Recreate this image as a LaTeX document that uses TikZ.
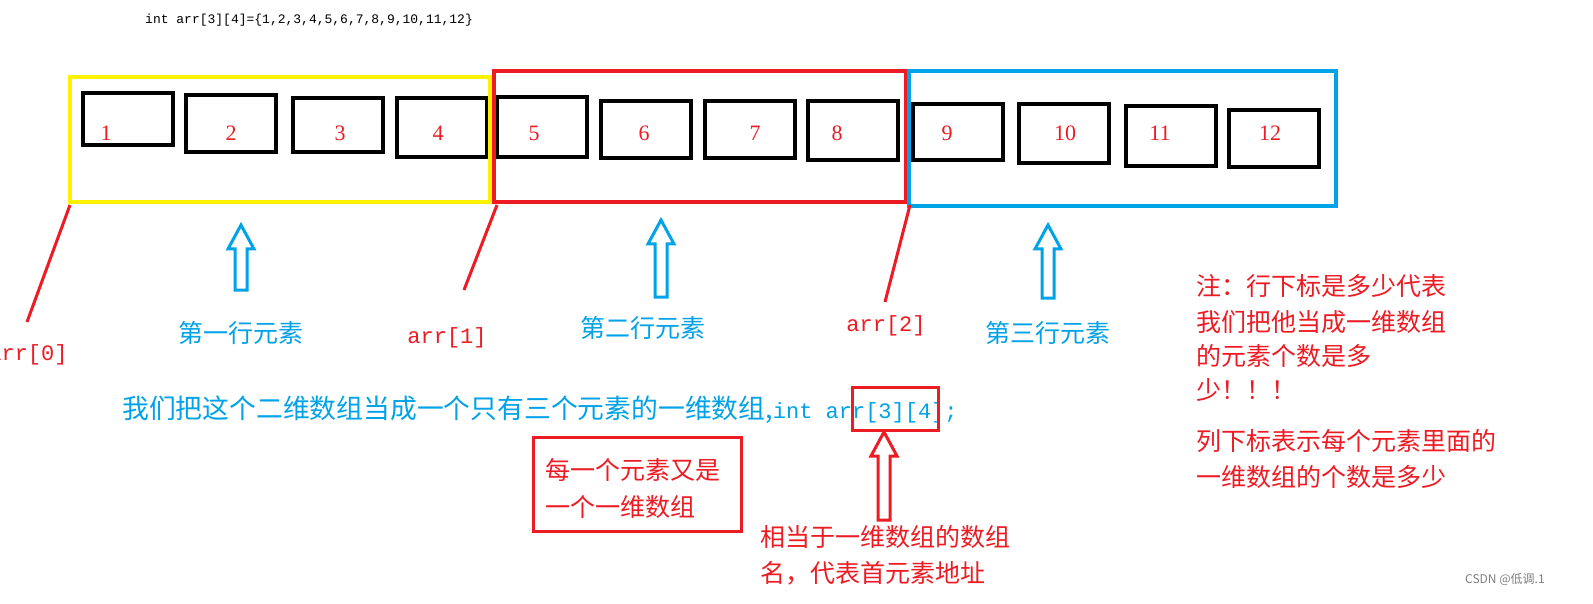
\documentclass[tikz,border=0pt]{standalone}
\usepackage{fontspec}
\setmainfont{Liberation Serif}
\setmonofont{Liberation Mono}
\newfontfamily\cjk{Noto Sans CJK SC}
\definecolor{myred}{RGB}{237,28,36}
\definecolor{myblue}{RGB}{0,162,232}
\definecolor{myyel}{RGB}{255,242,0}
\tikzset{
  cell/.style={draw=black,line width=4pt},
  num/.style={text=myred,font=\fontsize{22}{24}\selectfont,inner sep=0pt},
  lab/.style={text=myred,font=\ttfamily\fontsize{22}{24}\selectfont,inner sep=0pt},
  blab/.style={text=myblue,font=\cjk\fontsize{25}{28}\selectfont,inner sep=0pt},
  note/.style={text=myred,font=\cjk\fontsize{25}{28}\selectfont,inner sep=0pt,anchor=west},
  hol/.style={line width=3pt},
}
\newcommand{\harrow}[4]{\draw[hol,#4] (#1-6,#3) -- (#1-6,#2+24) -- (#1-13,#2+24) -- (#1,#2) -- (#1+13,#2+24) -- (#1+6,#2+24) -- (#1+6,#3) -- cycle;}
\begin{document}
\begin{tikzpicture}[x=1pt,y=-1pt]
\useasboundingbox[fill=white] (0,0) rectangle (1593,604);
\node[anchor=west,inner sep=0pt,font=\ttfamily\fontsize{13}{15}\selectfont] (code) at (145,20) {int arr[3][4]=\{1,2,3,4,5,6,7,8,9,10,11,12\}};
\draw[cell] (83,93) rectangle (173,145);
\draw[cell] (186,95) rectangle (276,152);
\draw[cell] (293,98) rectangle (383,152);
\draw[cell] (397,98) rectangle (487,157);
\draw[cell] (497,97) rectangle (587,157);
\draw[cell] (601,101) rectangle (691,158);
\draw[cell] (705,101) rectangle (795,158);
\draw[cell] (808,101) rectangle (898,160);
\draw[cell] (913,104) rectangle (1003,160);
\draw[cell] (1019,104) rectangle (1109,163);
\draw[cell] (1126,106) rectangle (1216,166);
\draw[cell] (1229,110) rectangle (1319,167);
\foreach \n/\x in {1/106,2/231,3/340,4/438,5/534,6/644,7/755,8/837,9/947,10/1065,11/1160,12/1270}
  \node[num] (n\n) at (\x,133) {\n};
\draw[myyel,line width=4pt] (70,77) rectangle (490,202);
\draw[myred,line width=4pt] (494,71) rectangle (906,202);
\draw[myblue,line width=4pt] (909,71) rectangle (1336,206);
\coordinate (c0) at (70,205); \coordinate (c1) at (497,205); \coordinate (c2) at (910,205);
\node[lab] (a0) at (28,355) {arr[0]};
\node[lab] (a1) at (447,338) {arr[1]};
\node[lab] (a2) at (886,326) {arr[2]};
\draw[myred,line width=3pt] (c0) -- (27,322);
\draw[myred,line width=3pt] (c1) -- (464,290);
\draw[myred,line width=3pt] (c2) -- (885,302);
\harrow{241}{225}{290}{myblue}
\harrow{661}{220}{297}{myblue}
\harrow{1048}{225}{298}{myblue}
\node[blab,anchor=west] (t1) at (178,333) {第一行元素};
\node[blab,anchor=west] (t2) at (580,328) {第二行元素};
\node[blab,anchor=west] (t3) at (985,333) {第三行元素};
\node[blab,anchor=west,font=\cjk\fontsize{26.8}{28}\selectfont] (long) at (122,410) {我们把这个二维数组当成一个只有三个元素的一维数组,{\ttfamily\fontsize{22}{24}\selectfont int arr[3][4];}};
\draw[myred,line width=3pt] (852,387) rectangle (938,430);
\harrow{884}{432}{520}{myred}
\draw[myred,line width=3pt] (533,437) rectangle (741,531);
\node[note] (e1) at (545,470) {每一个元素又是};
\node[note] (e2) at (545,507) {一个一维数组};
\node[note] (m1) at (760,537) {相当于一维数组的数组};
\node[note] (m2) at (760,573) {名，代表首元素地址};
\node[note] (r1) at (1196,286) {注：行下标是多少代表};
\node[note] (r2) at (1196,322) {我们把他当成一维数组};
\node[note] (r3) at (1196,356) {的元素个数是多};
\node[note] (r4) at (1196,390) {少！！！};
\node[note] (r5) at (1196,441) {列下标表示每个元素里面的};
\node[note] (r6) at (1196,477) {一维数组的个数是多少};
\node[anchor=west,inner sep=0pt,text=gray,font=\cjk\fontsize{12}{14}\selectfont] (wm) at (1465,580) {CSDN @低调.1};
\end{tikzpicture}
\end{document}
